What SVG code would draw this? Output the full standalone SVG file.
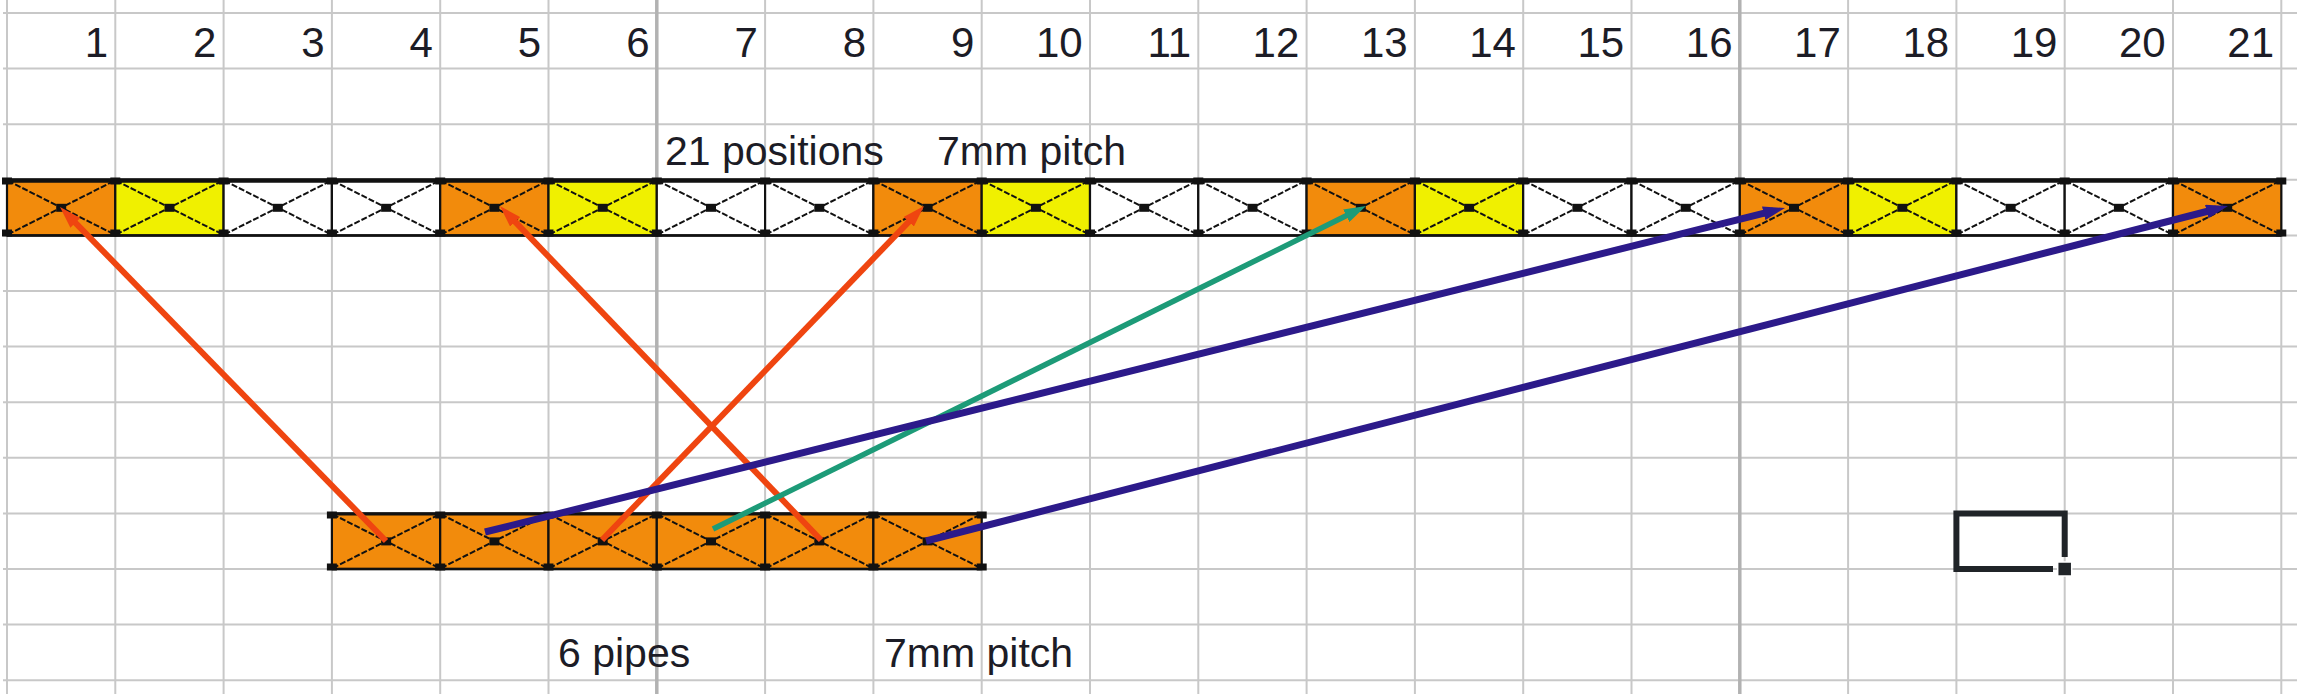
<svg xmlns="http://www.w3.org/2000/svg" xmlns:xlink="http://www.w3.org/1999/xlink" width="2297" height="694" viewBox="0 0 2297 694">
<style>
.grid{stroke:#c8c8c8;stroke-width:2}
.gridk{stroke:#b2b2b2;stroke-width:3.5}
.cellb{stroke:#111;stroke-width:2.2}
.diag{stroke:#111;stroke-width:2;stroke-dasharray:6 2;fill:none}
.dot{fill:#111}
.edge{stroke:#111;fill:none}
.lbl{font-family:"Liberation Sans",Arial,sans-serif;font-size:41px;fill:#1c1c26}
.num{text-anchor:end;font-size:42px}
.red{stroke:#EF4510;stroke-width:6;fill:none}
.grn{stroke:#1D9B78;stroke-width:5.5;fill:none}
.nav{stroke:#2C1A8A;stroke-width:7;fill:none}
.o{fill:#F28B0C}
.y{fill:#F0F000}
.w{fill:#ffffff}
</style>
<defs>
<g id="cell">
<rect class="cellb" x="0" y="0" width="108.3" height="55.6"/>
<line class="diag" x1="1" y1="1" x2="107.3" y2="54.6"/>
<line class="diag" x1="1" y1="54.6" x2="107.3" y2="1"/>
<rect class="dot" x="49.2" y="24" width="10" height="8"/>
</g>
<g id="hnd"><rect class="dot" x="-5" y="-3.5" width="10" height="7"/></g>
<marker id="ah-red" viewBox="0 0 22 14" refX="10" refY="7" markerWidth="22" markerHeight="14" markerUnits="userSpaceOnUse" orient="auto"><path d="M0,0 L22,7 L0,14 z" fill="#EF4510"/></marker>
<marker id="ah-grn" viewBox="0 0 22 14" refX="10" refY="7" markerWidth="22" markerHeight="14" markerUnits="userSpaceOnUse" orient="auto"><path d="M0,0 L22,7 L0,14 z" fill="#1D9B78"/></marker>
<marker id="ah-nav" viewBox="0 0 22 14" refX="10" refY="7" markerWidth="22" markerHeight="14" markerUnits="userSpaceOnUse" orient="auto"><path d="M0,0 L22,7 L0,14 z" fill="#2C1A8A"/></marker>
</defs>
<rect x="0" y="0" width="2297" height="694" fill="#ffffff"/>
<g id="grid">
<line class="grid" x1="3" y1="13" x2="2297" y2="13"/>
<line class="grid" x1="3" y1="68.6" x2="2297" y2="68.6"/>
<line class="grid" x1="3" y1="124.2" x2="2297" y2="124.2"/>
<line class="grid" x1="3" y1="179.8" x2="2297" y2="179.8"/>
<line class="grid" x1="3" y1="235.4" x2="2297" y2="235.4"/>
<line class="grid" x1="3" y1="291" x2="2297" y2="291"/>
<line class="grid" x1="3" y1="346.6" x2="2297" y2="346.6"/>
<line class="grid" x1="3" y1="402.2" x2="2297" y2="402.2"/>
<line class="grid" x1="3" y1="457.8" x2="2297" y2="457.8"/>
<line class="grid" x1="3" y1="513.4" x2="2297" y2="513.4"/>
<line class="grid" x1="3" y1="569" x2="2297" y2="569"/>
<line class="grid" x1="3" y1="624.6" x2="2297" y2="624.6"/>
<line class="grid" x1="3" y1="680.2" x2="2297" y2="680.2"/>
<line class="grid" x1="7" y1="0" x2="7" y2="694"/>
<line class="grid" x1="115.3" y1="0" x2="115.3" y2="694"/>
<line class="grid" x1="223.6" y1="0" x2="223.6" y2="694"/>
<line class="grid" x1="331.9" y1="0" x2="331.9" y2="694"/>
<line class="grid" x1="440.2" y1="0" x2="440.2" y2="694"/>
<line class="grid" x1="548.5" y1="0" x2="548.5" y2="694"/>
<line class="gridk" x1="656.8" y1="0" x2="656.8" y2="694"/>
<line class="grid" x1="765.1" y1="0" x2="765.1" y2="694"/>
<line class="grid" x1="873.4" y1="0" x2="873.4" y2="694"/>
<line class="grid" x1="981.7" y1="0" x2="981.7" y2="694"/>
<line class="grid" x1="1090" y1="0" x2="1090" y2="694"/>
<line class="grid" x1="1198.3" y1="0" x2="1198.3" y2="694"/>
<line class="grid" x1="1306.6" y1="0" x2="1306.6" y2="694"/>
<line class="grid" x1="1414.9" y1="0" x2="1414.9" y2="694"/>
<line class="grid" x1="1523.2" y1="0" x2="1523.2" y2="694"/>
<line class="grid" x1="1631.5" y1="0" x2="1631.5" y2="694"/>
<line class="gridk" x1="1739.8" y1="0" x2="1739.8" y2="694"/>
<line class="grid" x1="1848.1" y1="0" x2="1848.1" y2="694"/>
<line class="grid" x1="1956.4" y1="0" x2="1956.4" y2="694"/>
<line class="grid" x1="2064.7" y1="0" x2="2064.7" y2="694"/>
<line class="grid" x1="2173" y1="0" x2="2173" y2="694"/>
<line class="grid" x1="2281.3" y1="0" x2="2281.3" y2="694"/>
</g>
<g id="column-numbers">
<text class="lbl num" x="108" y="57">1</text>
<text class="lbl num" x="216.3" y="57">2</text>
<text class="lbl num" x="324.6" y="57">3</text>
<text class="lbl num" x="432.9" y="57">4</text>
<text class="lbl num" x="541.2" y="57">5</text>
<text class="lbl num" x="649.5" y="57">6</text>
<text class="lbl num" x="757.8" y="57">7</text>
<text class="lbl num" x="866.1" y="57">8</text>
<text class="lbl num" x="974.4" y="57">9</text>
<text class="lbl num" x="1082.7" y="57">10</text>
<text class="lbl num" x="1191" y="57">11</text>
<text class="lbl num" x="1299.3" y="57">12</text>
<text class="lbl num" x="1407.6" y="57">13</text>
<text class="lbl num" x="1515.9" y="57">14</text>
<text class="lbl num" x="1624.2" y="57">15</text>
<text class="lbl num" x="1732.5" y="57">16</text>
<text class="lbl num" x="1840.8" y="57">17</text>
<text class="lbl num" x="1949.1" y="57">18</text>
<text class="lbl num" x="2057.4" y="57">19</text>
<text class="lbl num" x="2165.7" y="57">20</text>
<text class="lbl num" x="2274" y="57">21</text>
</g>
<g id="label-positions">
<text class="lbl" x="665" y="165">21 positions</text>
<text class="lbl" x="937" y="165">7mm pitch</text>
</g>
<g id="label-pipes">
<text class="lbl" x="558" y="667">6 pipes</text>
<text class="lbl" x="884" y="667">7mm pitch</text>
</g>
<g id="top-strip">
<g id="pos-1"><use href="#cell" x="7" y="179.8" class="o"/></g>
<g id="pos-2"><use href="#cell" x="115.3" y="179.8" class="y"/></g>
<g id="pos-3"><use href="#cell" x="223.6" y="179.8" class="w"/></g>
<g id="pos-4"><use href="#cell" x="331.9" y="179.8" class="w"/></g>
<g id="pos-5"><use href="#cell" x="440.2" y="179.8" class="o"/></g>
<g id="pos-6"><use href="#cell" x="548.5" y="179.8" class="y"/></g>
<g id="pos-7"><use href="#cell" x="656.8" y="179.8" class="w"/></g>
<g id="pos-8"><use href="#cell" x="765.1" y="179.8" class="w"/></g>
<g id="pos-9"><use href="#cell" x="873.4" y="179.8" class="o"/></g>
<g id="pos-10"><use href="#cell" x="981.7" y="179.8" class="y"/></g>
<g id="pos-11"><use href="#cell" x="1090" y="179.8" class="w"/></g>
<g id="pos-12"><use href="#cell" x="1198.3" y="179.8" class="w"/></g>
<g id="pos-13"><use href="#cell" x="1306.6" y="179.8" class="o"/></g>
<g id="pos-14"><use href="#cell" x="1414.9" y="179.8" class="y"/></g>
<g id="pos-15"><use href="#cell" x="1523.2" y="179.8" class="w"/></g>
<g id="pos-16"><use href="#cell" x="1631.5" y="179.8" class="w"/></g>
<g id="pos-17"><use href="#cell" x="1739.8" y="179.8" class="o"/></g>
<g id="pos-18"><use href="#cell" x="1848.1" y="179.8" class="y"/></g>
<g id="pos-19"><use href="#cell" x="1956.4" y="179.8" class="w"/></g>
<g id="pos-20"><use href="#cell" x="2064.7" y="179.8" class="w"/></g>
<g id="pos-21"><use href="#cell" x="2173" y="179.8" class="o"/></g>
<line class="edge" x1="7" y1="180.5" x2="2281.3" y2="180.5" stroke-width="4.5"/>
<line class="edge" x1="7" y1="235.4" x2="2281.3" y2="235.4" stroke-width="2.5"/>
<g id="top-handles">
<use href="#hnd" x="7" y="181"/><use href="#hnd" x="7" y="233"/>
<use href="#hnd" x="115.3" y="181"/><use href="#hnd" x="115.3" y="233"/>
<use href="#hnd" x="223.6" y="181"/><use href="#hnd" x="223.6" y="233"/>
<use href="#hnd" x="331.9" y="181"/><use href="#hnd" x="331.9" y="233"/>
<use href="#hnd" x="440.2" y="181"/><use href="#hnd" x="440.2" y="233"/>
<use href="#hnd" x="548.5" y="181"/><use href="#hnd" x="548.5" y="233"/>
<use href="#hnd" x="656.8" y="181"/><use href="#hnd" x="656.8" y="233"/>
<use href="#hnd" x="765.1" y="181"/><use href="#hnd" x="765.1" y="233"/>
<use href="#hnd" x="873.4" y="181"/><use href="#hnd" x="873.4" y="233"/>
<use href="#hnd" x="981.7" y="181"/><use href="#hnd" x="981.7" y="233"/>
<use href="#hnd" x="1090" y="181"/><use href="#hnd" x="1090" y="233"/>
<use href="#hnd" x="1198.3" y="181"/><use href="#hnd" x="1198.3" y="233"/>
<use href="#hnd" x="1306.6" y="181"/><use href="#hnd" x="1306.6" y="233"/>
<use href="#hnd" x="1414.9" y="181"/><use href="#hnd" x="1414.9" y="233"/>
<use href="#hnd" x="1523.2" y="181"/><use href="#hnd" x="1523.2" y="233"/>
<use href="#hnd" x="1631.5" y="181"/><use href="#hnd" x="1631.5" y="233"/>
<use href="#hnd" x="1739.8" y="181"/><use href="#hnd" x="1739.8" y="233"/>
<use href="#hnd" x="1848.1" y="181"/><use href="#hnd" x="1848.1" y="233"/>
<use href="#hnd" x="1956.4" y="181"/><use href="#hnd" x="1956.4" y="233"/>
<use href="#hnd" x="2064.7" y="181"/><use href="#hnd" x="2064.7" y="233"/>
<use href="#hnd" x="2173" y="181"/><use href="#hnd" x="2173" y="233"/>
<use href="#hnd" x="2281.3" y="181"/><use href="#hnd" x="2281.3" y="233"/>
</g>
</g>
<g id="pipe-strip">
<g id="pipe-1"><use href="#cell" x="331.9" y="513.4" class="o"/></g>
<g id="pipe-2"><use href="#cell" x="440.2" y="513.4" class="o"/></g>
<g id="pipe-3"><use href="#cell" x="548.5" y="513.4" class="o"/></g>
<g id="pipe-4"><use href="#cell" x="656.8" y="513.4" class="o"/></g>
<g id="pipe-5"><use href="#cell" x="765.1" y="513.4" class="o"/></g>
<g id="pipe-6"><use href="#cell" x="873.4" y="513.4" class="o"/></g>
<line class="edge" x1="331.9" y1="514" x2="981.7" y2="514" stroke-width="3"/>
<line class="edge" x1="331.9" y1="569" x2="981.7" y2="569" stroke-width="2.5"/>
<g id="pipe-handles">
<use href="#hnd" x="331.9" y="515"/><use href="#hnd" x="331.9" y="567"/>
<use href="#hnd" x="440.2" y="515"/><use href="#hnd" x="440.2" y="567"/>
<use href="#hnd" x="548.5" y="515"/><use href="#hnd" x="548.5" y="567"/>
<use href="#hnd" x="656.8" y="515"/><use href="#hnd" x="656.8" y="567"/>
<use href="#hnd" x="765.1" y="515"/><use href="#hnd" x="765.1" y="567"/>
<use href="#hnd" x="873.4" y="515"/><use href="#hnd" x="873.4" y="567"/>
<use href="#hnd" x="981.7" y="515"/><use href="#hnd" x="981.7" y="567"/>
</g>
</g>
<g id="connectors">
<line class="red" x1="386" y1="541" x2="68.4" y2="215.6" marker-end="url(#ah-red)"/>
<line class="red" x1="821" y1="540" x2="508.3" y2="214.7" marker-end="url(#ah-red)"/>
<line class="red" x1="602" y1="540" x2="915.7" y2="214.6" marker-end="url(#ah-red)"/>
<line class="grn" x1="713" y1="529" x2="1355.2" y2="211.3" marker-end="url(#ah-grn)"/>
<line class="nav" x1="485" y1="532" x2="1773.4" y2="210.9" marker-end="url(#ah-nav)"/>
<line class="nav" x1="926" y1="541" x2="2216.4" y2="209" marker-end="url(#ah-nav)"/>
</g>
<g id="selected-cell">
<path d="M2064.7,557 V513.4 H1956.4 V569 H2053" fill="none" stroke="#202428" stroke-width="6" stroke-linejoin="miter"/>
<rect x="2057.7" y="562" width="14" height="14" fill="#202428" stroke="#ffffff" stroke-width="1.5"/>
</g>
</svg>
